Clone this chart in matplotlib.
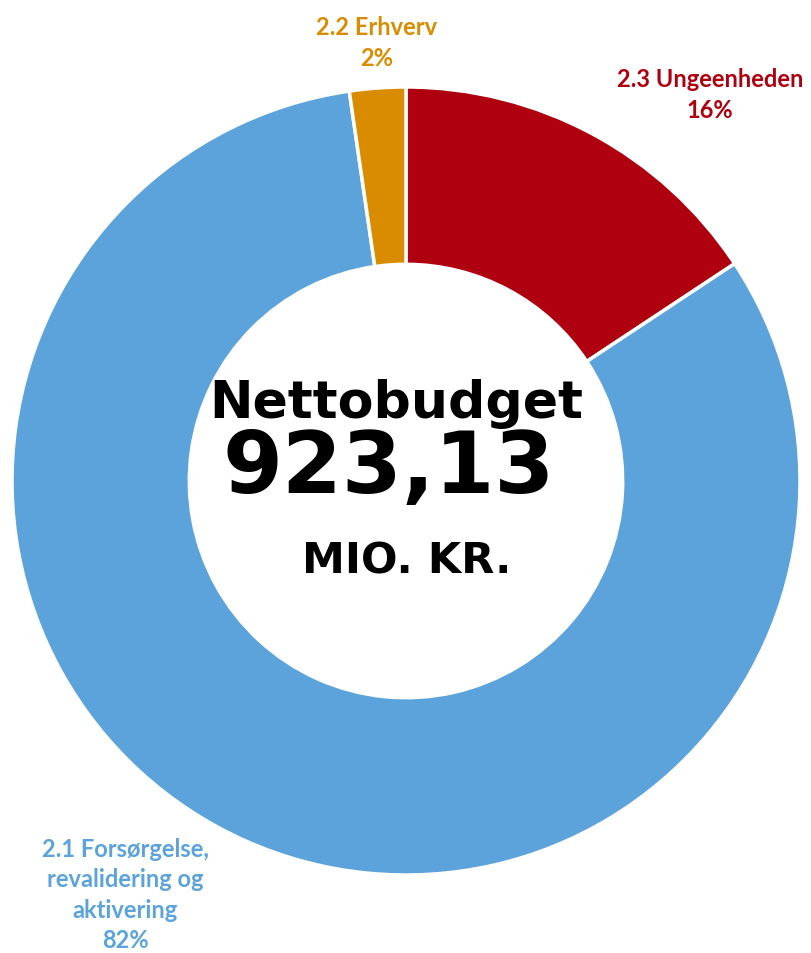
import matplotlib
matplotlib.use("Agg")
import matplotlib.pyplot as plt

# budget shares (percent of nettobudget), clockwise from 12 o'clock
labels = ["2.3 Ungeenheden", "2.1 Forsørgelse,\nrevalidering og\naktivering", "2.2 Erhverv"]
shares = [15.7, 82.0, 2.3]
pct_labels = ["16%", "82%", "2%"]
colors = ["#AE000E", "#5BA3DA", "#DA8C00"]

total_text = "923,13"

W, H = 811, 954
fig = plt.figure(figsize=(W / 100, H / 100), dpi=100)
ax = fig.add_axes([0, 0, 1, 1])

cx, cy, r = 406, H - 482, 394
ax.pie(shares, colors=colors, startangle=90, counterclock=False,
       center=(cx, cy), radius=r, frame=True,
       wedgeprops=dict(width=r * 0.45, edgecolor="white", linewidth=2.5))
ax.set_xlim(0, W)
ax.set_ylim(0, H)
ax.set_aspect("equal")
ax.axis("off")

# outside labels
lab_font = dict(family="Lato", weight="bold", fontsize=17, ha="center", va="center",
                linespacing=1.4)
ax.text(710, H - 95, labels[0] + "\n" + pct_labels[0], color=colors[0], **lab_font)
ax.text(125, H - 895, labels[1] + "\n" + pct_labels[1], color=colors[1], **lab_font)
ax.text(377, H - 43, labels[2] + "\n" + pct_labels[2], color=colors[2], **lab_font)

# center text
ax.text(396, H - 404, "Nettobudget", family="DejaVu Sans", weight="bold",
        fontsize=37.5, ha="center", va="center", color="black")
ax.text(389, H - 470, total_text, family="DejaVu Sans", weight="bold",
        fontsize=62, ha="center", va="center", color="black")
ax.text(407, H - 561, "MIO. KR.", family="DejaVu Sans", weight="bold",
        fontsize=31, ha="center", va="center", color="black")

fig.savefig("out.png", dpi=100)
